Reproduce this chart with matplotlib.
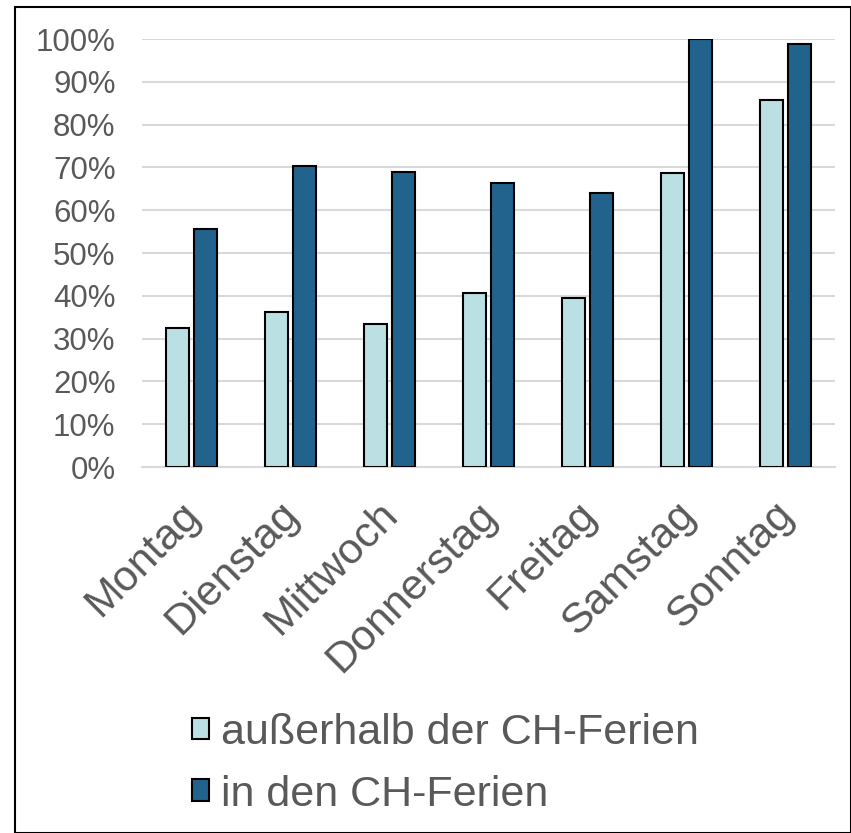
import numpy as np
import matplotlib.pyplot as plt
from matplotlib.ticker import PercentFormatter
from matplotlib.patches import Rectangle
from matplotlib.transforms import ScaledTranslation

plt.rcParams['font.family'] = ['Liberation Sans', 'DejaVu Sans']

days = ['Montag', 'Dienstag', 'Mittwoch', 'Donnerstag', 'Freitag', 'Samstag', 'Sonntag']
outside = [32.4, 36.2, 33.5, 40.6, 39.4, 68.6, 85.7]
holidays = [55.5, 70.3, 69.0, 66.4, 64.0, 100.0, 98.8]
series = ['außerhalb der CH-Ferien', 'in den CH-Ferien']
colors = ['#BAE0E3', '#21638C']
grey = '#595959'

fig = plt.figure(figsize=(8.51, 8.33), dpi=100)
ax = fig.add_axes([142 / 851, 1 - 467 / 833, (835 - 142) / 851, (467 - 39) / 833])

x = np.arange(len(days))
w = 0.235
ax.bar(x - w / 2 - 0.027, outside, w, color=colors[0], edgecolor='black', linewidth=1.5,
       label=series[0], zorder=3)
ax.bar(x + w / 2 + 0.027, holidays, w, color=colors[1], edgecolor='black', linewidth=1.5,
       label=series[1], zorder=3)

ax.set_xlim(-0.5, len(days) - 0.5)
ax.set_ylim(0, 100)
ax.set_yticks(np.arange(0, 101, 10))
ax.yaxis.set_major_formatter(PercentFormatter(decimals=0))
ax.grid(axis='y', color='#D9D9D9', linewidth=1.5, zorder=0)
for s in ['top', 'right', 'left']:
    ax.spines[s].set_visible(False)
ax.spines['bottom'].set_color('#D9D9D9')
ax.spines['bottom'].set_linewidth(1.5)
ax.tick_params(axis='both', length=0, colors=grey)
ax.tick_params(axis='y', labelsize=22.5, pad=19)
ax.set_xticks(x)
ax.set_xticklabels(days, rotation=45, ha='right', rotation_mode='anchor', fontsize=31)
ax.tick_params(axis='x', pad=8)
# shift rotated labels down-left like the original
shift = ScaledTranslation(-0.12, -0.16, fig.dpi_scale_trans)
for lab in ax.get_xticklabels():
    lab.set_transform(lab.get_transform() + shift)

leg = fig.legend(loc='upper left', bbox_to_anchor=(192 / 851, 1 - 713 / 833), frameon=False,
                 fontsize=31, labelcolor=grey, handlelength=0.4, handleheight=0.4,
                 handletextpad=0.28, labelspacing=0.5, borderpad=0, borderaxespad=0)
for h in leg.legend_handles:
    h.set_linewidth(1.5)

fig.patches.append(Rectangle((15 / 851, 0), 1 - 15 / 851, 1 - 7 / 833, transform=fig.transFigure,
                             fill=False, edgecolor='black', linewidth=1.5))

fig.savefig('out.png', dpi=100)
